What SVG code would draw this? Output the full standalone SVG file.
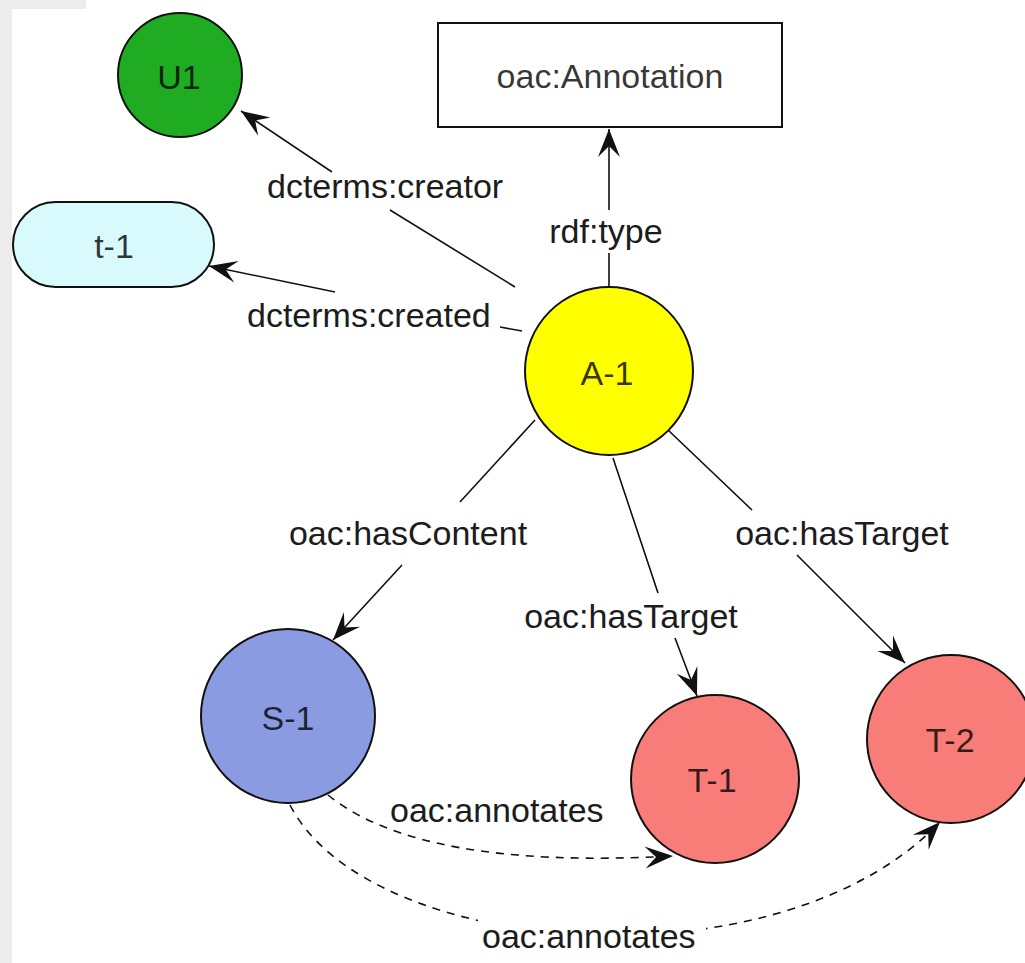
<svg xmlns="http://www.w3.org/2000/svg" width="1025" height="963" viewBox="0 0 1025 963">
  <defs>
    <marker id="arrow" markerUnits="userSpaceOnUse" viewBox="-30 -12 31 24" refX="0" refY="0" markerWidth="31" markerHeight="24" orient="auto">
      <path d="M0 0 L-28 -11 L-17 0 L-28 11 Z" fill="#111"/>
    </marker>
  </defs>
  <style>
    .txt { font-family: "Liberation Sans", Arial, sans-serif; font-size: 34px; fill: #1c1c1c; }
    .nlabel { font-family: "Liberation Sans", Arial, sans-serif; font-size: 34px; fill: #000; fill-opacity: 0.78; text-anchor: middle; }
    .node { stroke: #111; stroke-width: 2; }
    .edge { fill: none; stroke: #111; stroke-width: 1.6; }
    .dashed { stroke-dasharray: 8 7; }
  </style>

  <!-- canvas -->
  <rect x="0" y="0" width="1025" height="963" fill="#ffffff"/>
  <rect x="0" y="0" width="12" height="963" fill="#ececec"/>
  <rect x="0" y="0" width="86" height="9" fill="#ececec"/>

  <!-- connectors -->
  <g id="connectors">
    <path class="edge" d="M609 288 L609 253 M609 210 L609 129" marker-end="url(#arrow)"/>
    <path class="edge" d="M515 287 L390 210 M332 172 L241 111" marker-end="url(#arrow)"/>
    <path class="edge" d="M522 331 L500 327 M335 292 L209 266" marker-end="url(#arrow)"/>
    <path class="edge" d="M535 420 L460 502 M402 565 L333 640" marker-end="url(#arrow)"/>
    <path class="edge" d="M613 458 L658 593 M675 638 L697 696" marker-end="url(#arrow)"/>
    <path class="edge" d="M668 430 L752 510 M797 555 L905 663" marker-end="url(#arrow)"/>
    <path class="edge dashed" d="M328 795 Q420 870 673 856" marker-end="url(#arrow)"/>
    <path class="edge dashed" d="M290 805 C370 960 780 990 940 822" marker-end="url(#arrow)"/>

    <text class="txt" x="267" y="198">dcterms:creator</text>
    <text class="txt" x="247" y="327">dcterms:created</text>
    <text class="txt" x="606" y="243" text-anchor="middle">rdf:type</text>
    <text class="txt" x="408" y="545" text-anchor="middle">oac:hasContent</text>
    <text class="txt" x="631" y="628" text-anchor="middle">oac:hasTarget</text>
    <text class="txt" x="842" y="545" text-anchor="middle">oac:hasTarget</text>
    <text class="txt" x="390" y="822">oac:annotates</text>
    <rect x="478" y="918" width="228" height="40" fill="#ffffff"/>
    <text class="txt" x="482" y="948">oac:annotates</text>
  </g>

  <!-- nodes -->
  <g id="node-U1">
    <circle class="node" cx="180" cy="75" r="62" fill="#1fac22"/>
    <text class="nlabel" x="179" y="89">U1</text>
  </g>
  <g id="node-oac-Annotation">
    <rect class="node" x="438" y="23" width="344" height="104" fill="#ffffff"/>
    <text class="nlabel" x="610" y="88">oac:Annotation</text>
  </g>
  <g id="node-t-1">
    <rect class="node" x="13" y="202" width="201" height="85" rx="42.5" ry="42.5" fill="#d9fafc"/>
    <text class="nlabel" x="114" y="258">t-1</text>
  </g>
  <g id="node-A-1">
    <circle class="node" cx="609" cy="371" r="84" fill="#ffff00"/>
    <text class="nlabel" x="607" y="385">A-1</text>
  </g>
  <g id="node-S-1">
    <circle class="node" cx="288" cy="716" r="87" fill="#8a9be2"/>
    <text class="nlabel" x="288" y="730">S-1</text>
  </g>
  <g id="node-T-1">
    <circle class="node" cx="715" cy="779" r="84" fill="#f87c78"/>
    <text class="nlabel" x="712" y="792">T-1</text>
  </g>
  <g id="node-T-2">
    <circle class="node" cx="951" cy="739" r="84" fill="#f87c78"/>
    <text class="nlabel" x="950" y="752">T-2</text>
  </g>
</svg>
